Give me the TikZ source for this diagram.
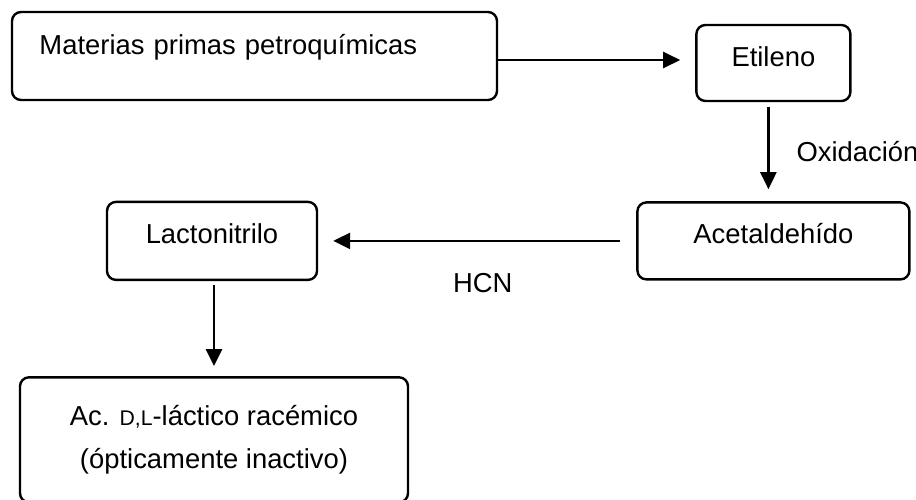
\documentclass[tikz,border=0pt]{standalone}
\usepackage{fontspec}
\setmainfont{Liberation Sans}
\usepackage{tikz}
\usetikzlibrary{arrows.meta,positioning}
\newcommand{\fakesc}[1]{{\fontsize{10.6}{21.5}\selectfont #1}}

\begin{document}
\begin{tikzpicture}[
x=0.5pt,y=-0.5pt,
box/.style={draw,line width=1.2pt,rounded corners=4.5pt,align=center,font=\fontsize{13.7}{21.5}\selectfont},
oneline/.style={text height=10pt,text depth=7pt},
arr/.style={-{Triangle[length=8.5pt,width=8pt]},line width=1.2pt},
lbl/.style={inner sep=0pt,font=\fontsize{13.7}{16}\selectfont}
]
\useasboundingbox (0,0) rectangle (916,499);
\node[box,align=left,minimum width=242.5pt,minimum height=44pt,inner xsep=13.5pt,text width=215pt,text height=8pt,text depth=10pt] (matprim) at (254.5,56) {Materias primas petroquímicas};
\node[box,oneline,minimum width=77pt,minimum height=38pt,right=98.5pt of matprim,yshift=-3.5pt] (etileno) {Etileno};
\node[box,oneline,minimum width=136pt,minimum height=38.5pt,below=49.5pt of etileno] (acetal) {Acetaldehído};
\node[box,oneline,minimum width=105pt,minimum height=39pt,left=159pt of acetal] (lacto) {Lactonitrilo};
\node[box,minimum width=194pt,minimum height=62.5pt,below=47.5pt of lacto,xshift=1pt] (racem) {Ac. \fakesc{D,L}-láctico racémico\\(ópticamente inactivo)};
\draw[arr,shorten >=7.5pt] ([yshift=-2pt]matprim.east) -- ([yshift=-2pt]matprim.east -| etileno.west);
\draw[arr,shorten <=2.5pt,shorten >=6pt] ([xshift=-2.5pt]etileno.south) -- ([xshift=-2.5pt]etileno.south |- acetal.north) node[lbl,midway,right=13.5pt]{Oxidación};
\draw[arr,shorten <=8pt,shorten >=7.5pt] (acetal.west) -- (lacto.east) node[lbl,midway,below=15.5pt,xshift=2.75pt]{HCN};
\draw[arr,shorten <=2pt,shorten >=5pt] ([xshift=1pt]lacto.south) -- ([xshift=1pt]lacto.south |- racem.north);
\end{tikzpicture}
\end{document}
